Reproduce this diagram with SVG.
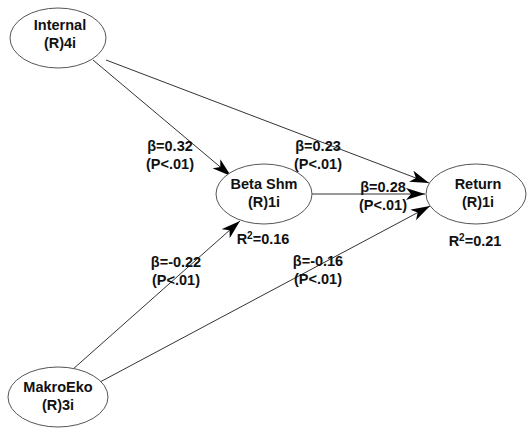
<svg xmlns="http://www.w3.org/2000/svg" width="530" height="432" viewBox="0 0 530 432">
<style>
.node ellipse{fill:#fff;stroke:#555;stroke-width:1}
.t{font-family:"Liberation Sans",Arial,sans-serif;font-weight:bold;font-size:14.5px;fill:#111;text-anchor:middle}
.edge{stroke:#333;stroke-width:1;fill:none;marker-end:url(#ah)}
</style>
<defs>
<marker id="ah" markerWidth="22" markerHeight="12" refX="19" refY="6" orient="auto" markerUnits="userSpaceOnUse">
<path d="M0,0 L19,6 L0,12 L5,6 Z" fill="#000"/>
</marker>
</defs>
<rect width="530" height="432" fill="#fff"/>
<g id="connectors">
<line class="edge" x1="93" y1="60" x2="231" y2="176"/>
<line class="edge" x1="106" y1="60" x2="429" y2="183"/>
<line class="edge" x1="312" y1="194" x2="425" y2="194"/>
<line class="edge" x1="72" y1="370" x2="240" y2="221"/>
<line class="edge" x1="100" y1="382" x2="430" y2="206"/>
</g>
<g id="labels">
<text class="t" x="170" y="151">β=0.32</text>
<text class="t" x="170" y="169">(P&lt;.01)</text>
<text class="t" x="318" y="151">β=0.23</text>
<text class="t" x="318" y="169">(P&lt;.01)</text>
<text class="t" x="383" y="192">β=0.28</text>
<text class="t" x="383" y="210">(P&lt;.01)</text>
<text class="t" x="176" y="267">β=-0.22</text>
<text class="t" x="176" y="285">(P&lt;.01)</text>
<text class="t" x="318" y="266">β=-0.16</text>
<text class="t" x="318" y="284">(P&lt;.01)</text>
</g>
<g id="internal" class="node">
<ellipse cx="58" cy="38" rx="48" ry="30"/>
<text class="t" x="60" y="30">Internal</text>
<text class="t" x="60" y="48">(R)4i</text>
</g>
<g id="betashm" class="node">
<ellipse cx="264" cy="194" rx="48" ry="30"/>
<text class="t" x="264" y="189">Beta Shm</text>
<text class="t" x="264" y="207">(R)1i</text>
<text class="t" x="263" y="244">R<tspan font-size="10" dy="-5">2</tspan><tspan dy="5">=0.16</tspan></text>
</g>
<g id="return" class="node">
<ellipse cx="476" cy="194" rx="50" ry="30"/>
<text class="t" x="478" y="189">Return</text>
<text class="t" x="478" y="207">(R)1i</text>
<text class="t" x="475" y="246">R<tspan font-size="10" dy="-5">2</tspan><tspan dy="5">=0.21</tspan></text>
</g>
<g id="makroeko" class="node">
<ellipse cx="58" cy="397" rx="50" ry="30"/>
<text class="t" x="58" y="392">MakroEko</text>
<text class="t" x="58" y="410">(R)3i</text>
</g>
</svg>
